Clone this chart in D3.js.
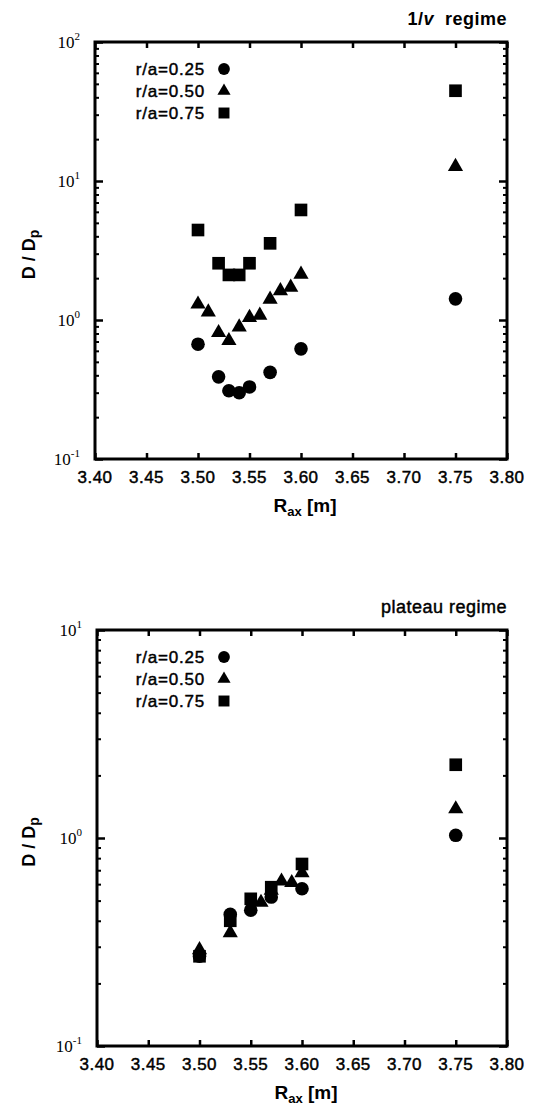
<!DOCTYPE html>
<html>
<head>
<meta charset="utf-8">
<script src="https://cdn.jsdelivr.net/npm/d3@7"></script>
<style>
  body { margin: 0; background: #fff; }
  svg text { fill: #000; }
  .sans { font-family: "Liberation Sans", Arial, sans-serif; }
  .serif { font-family: "Liberation Serif", "Times New Roman", serif; }
  .heavy { stroke: #000; stroke-width: 0.45px; }
</style>
</head>
<body>
<div id="chart"></div>
<script>
// x tick labels shared by both panels
var xTicks = [3.40, 3.45, 3.50, 3.55, 3.60, 3.65, 3.70, 3.75, 3.80];
var seriesNames = ['r/a=0.25', 'r/a=0.50', 'r/a=0.75'];

// 1/nu regime
var nuRax025 = [3.50, 3.52, 3.53, 3.54, 3.55, 3.57, 3.60, 3.75];
var nuD025   = [0.67, 0.39, 0.31, 0.30, 0.33, 0.42, 0.62, 1.42];
var nuRax050 = [3.50, 3.51, 3.52, 3.53, 3.54, 3.55, 3.56, 3.57, 3.58, 3.59, 3.60, 3.75];
var nuD050   = [1.30, 1.14, 0.81, 0.71, 0.89, 1.04, 1.08, 1.41, 1.62, 1.72, 2.13, 12.7];
var nuRax075 = [3.50, 3.52, 3.53, 3.54, 3.55, 3.57, 3.60, 3.75];
var nuD075   = [4.44, 2.56, 2.11, 2.11, 2.56, 3.56, 6.19, 44.6];
var nuYTicks = [-1, 0, 1, 2];

// plateau regime
var plRax025 = [3.50, 3.53, 3.55, 3.57, 3.60, 3.75];
var plD025   = [0.27, 0.43, 0.45, 0.52, 0.57, 1.03];
var plRax050 = [3.50, 3.53, 3.56, 3.57, 3.58, 3.59, 3.60, 3.75];
var plD050   = [0.29, 0.35, 0.49, 0.56, 0.62, 0.61, 0.68, 1.38];
var plRax075 = [3.50, 3.53, 3.55, 3.57, 3.60, 3.75];
var plD075   = [0.27, 0.40, 0.51, 0.58, 0.75, 2.25];
var plYTicks = [-1, 0, 1];

var W = 533, H = 1117;
var svg = d3.select('#chart').append('svg')
    .attr('width', W)
    .attr('height', H);

var symbols = [d3.symbolCircle, d3.symbolTriangle, d3.symbolSquare];
var symSizes = [145, 100, 160];

function zip(xs, ys) {
    return xs.map(function(x, i) { return {x: x, y: ys[i]}; });
}

function panel(opts) {
    var x = d3.scaleLinear().domain([3.40, 3.80]).range([opts.left, opts.right]);
    var y = d3.scaleLog().domain([Math.pow(10, opts.yExp[0]), Math.pow(10, opts.yExp[opts.yExp.length - 1])])
        .range([opts.bottom, opts.top]);
    var g = svg.append('g');

    // minor log ticks, both sides
    var minors = [];
    for (var e = opts.yExp[0]; e < opts.yExp[opts.yExp.length - 1]; e++) {
        for (var m = 2; m <= 9; m++) minors.push(m * Math.pow(10, e));
    }
    g.append('g').attr('transform', 'translate(' + opts.left + ',0)')
        .call(d3.axisRight(y).tickValues(minors).tickSize(4).tickFormat(''))
        .call(function(s) { s.select('.domain').remove(); s.selectAll('line').attr('stroke-width', 2); });
    g.append('g').attr('transform', 'translate(' + opts.right + ',0)')
        .call(d3.axisLeft(y).tickValues(minors).tickSize(4).tickFormat(''))
        .call(function(s) { s.select('.domain').remove(); s.selectAll('line').attr('stroke-width', 2); });
    // major ticks
    var majors = opts.yExp.map(function(e) { return Math.pow(10, e); });
    g.append('g').attr('transform', 'translate(' + opts.left + ',0)')
        .call(d3.axisRight(y).tickValues(majors).tickSize(8).tickFormat(''))
        .call(function(s) { s.select('.domain').remove(); s.selectAll('line').attr('stroke-width', 2.5); });
    g.append('g').attr('transform', 'translate(' + opts.right + ',0)')
        .call(d3.axisLeft(y).tickValues(majors).tickSize(8).tickFormat(''))
        .call(function(s) { s.select('.domain').remove(); s.selectAll('line').attr('stroke-width', 2.5); });

    // y labels 10^n
    var yl = g.selectAll('text.ylab').data(opts.yExp).enter().append('text')
        .attr('class', 'ylab serif')
        .attr('x', opts.left - 15)
        .attr('y', function(d) { return y(Math.pow(10, d)) + 6; })
        .attr('text-anchor', 'end')
        .style('font-size', '17px');
    yl.append('tspan').text('10');
    yl.append('tspan').attr('dy', -8).style('font-size', '11px').text(function(d) { return d; });

    // x ticks top and bottom
    g.append('g').attr('transform', 'translate(0,' + opts.bottom + ')')
        .call(d3.axisTop(x).tickValues(xTicks).tickSize(6).tickFormat(''))
        .call(function(s) { s.select('.domain').remove(); s.selectAll('line').attr('stroke-width', 2.5); });
    g.append('g').attr('transform', 'translate(0,' + opts.top + ')')
        .call(d3.axisBottom(x).tickValues(xTicks).tickSize(6).tickFormat(''))
        .call(function(s) { s.select('.domain').remove(); s.selectAll('line').attr('stroke-width', 2.5); });

    g.selectAll('text.xlab').data(xTicks).enter().append('text')
        .attr('class', 'xlab sans heavy')
        .attr('x', function(d) { return x(d); })
        .attr('y', opts.bottom + 24)
        .attr('text-anchor', 'middle')
        .style('font-size', '17px')
        .style('letter-spacing', '0.5px')
        .text(function(d) { return d.toFixed(2); });

    // frame
    g.append('rect')
        .attr('x', opts.left).attr('y', opts.top)
        .attr('width', opts.right - opts.left).attr('height', opts.bottom - opts.top)
        .attr('fill', 'none').attr('stroke', '#000').attr('stroke-width', 3);

    // title
    g.append('text').attr('class', 'sans' + (opts.titleBold ? '' : ' heavy'))
        .attr('x', opts.right).attr('y', opts.top - 17)
        .attr('text-anchor', 'end')
        .style('font-size', '18px')
        .style('font-weight', opts.titleBold ? 'bold' : 'normal')
        .style('letter-spacing', '0.5px')
        .html(opts.title);

    // axis titles
    var mid = (opts.top + opts.bottom) / 2;
    var yt = g.append('text').attr('class', 'sans')
        .attr('transform', 'translate(35,' + (mid + 4) + ') rotate(-90)')
        .attr('text-anchor', 'middle')
        .style('font-size', '18px').style('font-weight', 'bold');
    yt.append('tspan').text('D / D');
    yt.append('tspan').attr('dy', 4).style('font-size', '14px').text('p');

    var xt = g.append('text').attr('class', 'sans')
        .attr('x', (opts.left + opts.right) / 2 + 4).attr('y', opts.bottom + 53)
        .attr('text-anchor', 'middle')
        .style('font-size', '19px').style('font-weight', 'bold');
    xt.append('tspan').text('R');
    xt.append('tspan').attr('dy', 4).style('font-size', '13px').text('ax');
    xt.append('tspan').attr('dy', -4).text(' [m]');

    // points
    opts.series.forEach(function(s, i) {
        g.selectAll('path.p' + i).data(s).enter().append('path')
            .attr('class', 'p' + i)
            .attr('d', d3.symbol().type(symbols[i]).size(symSizes[i]))
            .attr('transform', function(d) { return 'translate(' + x(d.x) + ',' + y(d.y) + ')'; })
            .attr('fill', '#000');
    });

    // legend
    var lg = g.append('g');
    seriesNames.forEach(function(name, i) {
        var ly = opts.top + 27 + i * 22;
        lg.append('text').attr('class', 'sans heavy')
            .attr('x', 205).attr('y', ly + 6)
            .attr('text-anchor', 'end')
            .style('font-size', '17px')
            .style('letter-spacing', '0.8px')
            .text(name);
        lg.append('path')
            .attr('d', d3.symbol().type(symbols[i]).size(symSizes[i] * 0.75))
            .attr('transform', 'translate(224,' + ly + ')')
            .attr('fill', '#000');
    });
}

panel({
    left: 95, right: 507, top: 42, bottom: 459,
    yExp: nuYTicks,
    title: '1/<tspan font-style="italic">v</tspan>&#160; regime',
    titleBold: true,
    series: [zip(nuRax025, nuD025), zip(nuRax050, nuD050), zip(nuRax075, nuD075)]
});

panel({
    left: 97, right: 507, top: 630, bottom: 1046,
    yExp: plYTicks,
    title: 'plateau regime',
    titleBold: false,
    series: [zip(plRax025, plD025), zip(plRax050, plD050), zip(plRax075, plD075)]
});
</script>
</body>
</html>
